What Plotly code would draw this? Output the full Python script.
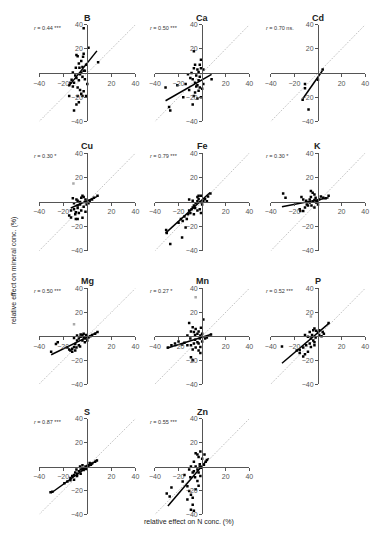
import plotly.graph_objects as go

W, H = 376, 550

# ---------------- data (relative effects, %) ----------------
panels = ["B", "Ca", "Cd", "Cu", "Fe", "K", "Mg", "Mn", "P", "S", "Zn"]
r_labels = ["0.44 ***", "0.50 ***", "0.70 ns.", "0.30 *", "0.79 ***", "0.30 *",
            "0.50 ***", "0.27 *", "0.52 ***", "0.87 ***", "0.55 ***"]

B_x = [-3, 1, -8, -9, -3.5, -3, -5, -7, -1, 9, -9.5, -6.5, -4, -3, -12, -10, -6, -4, -2, -13, -11, -15, -12, -8, -6, -3, -5, -4, -8, -1, -15, -7, -9, -11, -7, -9, -2, -5, 0, -14]
B_y = [37, 21, 14, 15, 13.5, 16, 10, 8, 7, 9, 4.5, 4.5, 5, 2, 0.5, -2, -1, -3, -5, -5.5, -8, -10, -11, -12, -14, -15, -17, -19, -19, -19, -19, -24, -26, -31, -6, -4, 2, 0.5, -9, -8]

Ca_x = [-7, -1, -2, -6, -12, -7, -4, -3, -1, 1, -10, -8, -6, -4, -2, 0, -3, -6, -7, -1, -4, -8, -21, -31, -28, -27, -16, 8, -5, -9, -2, -14, -11, -5, 1, -3]
Ca_y = [18, 11, 7, 7, -1, 4, 3, 1, 4, 3, -4, -5, -8, -10, -12, -13, -14.5, -16, -19, -20, -21, -26, -10, -12, -28, -31, -20, -5, -2, 0, -3, -9, -14, -11, -9, -6]

Cd_x = [4, 0, -11, -11, -13, -8]
Cd_y = [3, -5.5, -9, -12.5, -22, -30]

Cu_x = [-12, -11, -9, -8, -5, -4, -3, -1.5, -6, -8, -11, -13.5, -15, -13.5, -9.5, -8, -4, -1.5, 1, 4, 5.5, 8.5, -7, -3, -0.5, -9.5, -5, -8, -10, -2, 2, -6]
Cu_y = [3, -1, 2, 1, 3.5, 5, 4, 2, -2, -5, -6, -7, -11, -12.7, -14, -14, -13, -8, -1, 2, 3.5, 5, -9, -4, -2, -8.5, -7, -3, -10, 0, 1, 0]
Cu_out_x = [-11.5]
Cu_out_y = [15]

Fe_x = [-30.5, -30, -27, -17, -14, -16.5, -15, -12, -11, -10, -8, -7, -5.5, -4, -3, -1.5, 0, 1, 2.5, 4, 5, -4, -3, -11, -8, -6, -2, -1, -7, -1, 7, -13, -20, -18, -9, -4]
Fe_y = [-23, -25.5, -34.5, -29, -21, -15.5, -12, -10, -7, -9, -4.5, -3, -1, 0.5, 2.5, 0, -2, 1, 2.5, 0.5, 4.5, 4, 5, 2, 1, -5, -6, -9, -10, 5, 7, -14, -17, -14, -6, -7]

K_x = [-29.5, -27.5, -14, -12.5, -10, -6, -4.5, -3, -2, 1, 2.5, 4.5, 6.5, 9, -7, -8.5, -11, -12.5, -15, -15.5, -3, -5.5, -1.5, -4, -7, -9.5, -1, -6, 0, -3]
K_y = [7, 3.5, 4, 2, 1, 9, 7.5, 6, 3.5, 2, 4.5, 3.5, 3, 5, -0.5, -3, -4.5, -7.5, -7.5, -6, -4.5, -3, -0.5, 0.5, 2, -2, 1, 4, -2, 1.5]

Mg_x = [-30, -24.5, -26, -16.5, -15, -14, -12.5, -11, -10, -8.5, -7, -5.5, -4, -3, -1.5, 0, 1, 2.5, 4, 6.5, 8.5, -11, -8.5, -5.5, -4, -7, -9, -12.5, -10, -6, -2, -1, -3]
Mg_y = [-13, -5, -6.5, -9.5, -11, -12, -13, -9, -6.5, -3.5, -2, -0.5, 1, -1, -2, -3.5, -1, 0, 1, 2, 3.5, -1.5, 0.5, 1.5, -3.5, -7.5, -9.5, -10.5, -12, -8.5, -5, 1, 2]
Mg_out_x = [-11]
Mg_out_y = [10]

Mn_x = [1, -11, -8, -7, -5.5, -9.5, -12.5, -4, -3, -1.5, 0, -23, -26, -29, -15, -12.5, -9.5, -8, -5.5, -3, -1.5, 0, 2.5, 4, 7.5, -9.5, -8, -3, -1.5, -6, -10, -2, -4, -7, -17, -20, -1, -6]
Mn_y = [14, 11, 7.5, 3.5, 6, 4, 0.5, 2, 4, 0.5, 2, -6, -7.5, -9.5, -5.5, -7.5, -7.5, -11, -9.5, -6, -9, -4.5, -2, -1, 1.5, -17.5, -20, -12, -14, -3, -2, -2, -5, -6, -7, -4.5, 7, 1]
Mn_out_x = [-5.5]
Mn_out_y = [32.5]

P_x = [-30.5, -11, -7, -4, -3, -1.5, 0, 1, 4, 9, -8.5, -6, -4, -3, -7, -10, -12.5, -15.5, -15.5, -12.5, -11, -8.5, -3, -6, 1, 3, -2, -5, 5, -18]
P_y = [-8.5, 1, 3.5, 5, 6.5, 4.5, 3, 5, 3.5, 11, -0.5, -2, -3.5, -5, -6, -7.5, -9.5, -11.5, -14, -17, -15, -13, -7.5, -9, 1, 0, -1, 1, 2, -12]
P_out_x = [-6]
P_out_y = [16.5]

S_x = [-30.5, -29, -19, -16.5, -14, -12.5, -11, -10, -8.5, -7, -5.5, -4, -2.5, -1.5, 0, 1.5, 3, 4, 6.5, 8, -11, -8.5, -14, -4, -5.5, -3, -1, -6, -9, 2]
S_y = [-21.5, -21, -14, -12.5, -9.5, -8, -7, -5, -6, -4, -2.5, -2, -1.5, 0, 0.5, 1, 1.5, 2.5, 4, 5, -11, -8, -11.5, 1, -6, -3, -2, 0, -2.5, 3]

Zn_x = [-1.5, -4, -5.5, -3, 0, 4, -7, -9.5, -11, -8, -7, -5.5, -4, -3, -15, -16.5, -26, -30, -27.5, -12.5, -11, -9.5, -8, -12.5, -8, -9.5, -7, -4, -3, -5.5, -1.5, 1.5, 3, -2, -6, -10, -1, 2, -2]
Zn_y = [12.5, 10, 11, 8, 6.5, 5.5, 4, 0, -2.5, -5, -4, 0, -2.5, -5, -7, -12.5, -17.5, -22.5, -25, -16.5, -20.5, -23.5, -26, -27.5, -32, -36, -37, -12, -16, -19, -8, 1.5, 4, 2, -9, -9, -1, 10, 0]

# regression lines: slope, intercept, x-extent
reg_slope = [1.25, 0.56, 1.40, 0.43, 0.88, 0.19, 0.49, 0.31, 0.84, 0.72, 1.16]
reg_icpt = [8.4, -5.5, -3.2, 0.9, 1.8, 1.8, -0.8, -0.8, 3.0, -0.5, 0.6]
reg_xmin = [-15, -31, -12.7, -13.7, -31, -30.5, -30, -30, -30.5, -30, -29]
reg_xmax = [8, 8, 3.7, 8, 6.5, 9, 8.5, 8, 9, 8.3, 5.5]

axis_ticks = [-40, -20, 20, 40]
axis_range = [-40, 40]

series = {
    "B": (B_x, B_y, [], []),
    "Ca": (Ca_x, Ca_y, [], []),
    "Cd": (Cd_x, Cd_y, [], []),
    "Cu": (Cu_x, Cu_y, Cu_out_x, Cu_out_y),
    "Fe": (Fe_x, Fe_y, [], []),
    "K": (K_x, K_y, [], []),
    "Mg": (Mg_x, Mg_y, Mg_out_x, Mg_out_y),
    "Mn": (Mn_x, Mn_y, Mn_out_x, Mn_out_y),
    "P": (P_x, P_y, P_out_x, P_out_y),
    "S": (S_x, S_y, [], []),
    "Zn": (Zn_x, Zn_y, [], []),
}

# ---------------- layout geometry (pixels) ----------------
col_px = [(34, 133), (153, 250), (272, 369)]
row_px = [(21, 119), (151, 250), (288, 385), (420, 517)]

FONT = "Liberation Sans, Arial, sans-serif"
fig = go.Figure()
layout = dict(
    width=W, height=H, margin=dict(l=0, r=0, t=0, b=0),
    paper_bgcolor="white", plot_bgcolor="white", showlegend=False,
    font=dict(family=FONT, size=7, color="#333"),
)
annotations = []

for i, name in enumerate(panels):
    r, c = divmod(i, 3)
    x0, x1 = col_px[c]
    y0, y1 = row_px[r]
    xd = [x0 / W, x1 / W]
    yd = [1 - y1 / H, 1 - y0 / H]
    k = "" if i == 0 else str(i + 1)
    xa, ya = "x" + k, "y" + k
    common = dict(range=axis_range, tickvals=axis_ticks, ticks="outside", ticklen=3,
                  tickwidth=1, tickcolor="#555", showline=True, linecolor="#555",
                  linewidth=1, showgrid=False, zeroline=False, fixedrange=True,
                  tickfont=dict(family=FONT, size=7, color="#555"))
    layout["xaxis" + k] = dict(domain=xd, anchor="free", position=(yd[0] + yd[1]) / 2, **common)
    layout["yaxis" + k] = dict(domain=yd, anchor="free", position=(xd[0] + xd[1]) / 2, **common)

    # 1:1 line
    fig.add_trace(go.Scatter(x=axis_range, y=axis_range, mode="lines", xaxis=xa, yaxis=ya,
                             line=dict(color="#999", width=0.8, dash="1px,1.5px"), hoverinfo="skip"))
    px_, py_, ox, oy = series[name]
    if ox:
        fig.add_trace(go.Scatter(x=ox, y=oy, mode="markers", xaxis=xa, yaxis=ya,
                                 marker=dict(symbol="square", size=2.5, color="#aaa")))
    fig.add_trace(go.Scatter(x=px_, y=py_, mode="markers", xaxis=xa, yaxis=ya,
                             marker=dict(symbol="square", size=2.5, color="black")))
    lx = [reg_xmin[i], reg_xmax[i]]
    ly = [reg_slope[i] * v + reg_icpt[i] for v in lx]
    fig.add_trace(go.Scatter(x=lx, y=ly, mode="lines", xaxis=xa, yaxis=ya,
                             line=dict(color="black", width=1.5)))

    # panel title
    annotations.append(dict(text="<b>%s</b>" % name, x=(x0 + x1) / 2 / W, y=1 - (y0 - 7) / H,
                            xref="paper", yref="paper", showarrow=False, xanchor="center",
                            yanchor="middle", font=dict(family=FONT, size=9, color="#222")))
    # r label
    annotations.append(dict(text="<i>r</i> = %s" % r_labels[i], x=(x0 - 7) / W, y=1 - (y0 + 3) / H,
                            xref="paper", yref="paper", showarrow=False, xanchor="left",
                            yanchor="middle", font=dict(family=FONT, size=5.5, color="#333")))

annotations.append(dict(text="relative effect on N conc. (%)", x=188 / W, y=1 - 525 / H,
                        xref="paper", yref="paper", showarrow=False, xanchor="center",
                        yanchor="middle", font=dict(family=FONT, size=7, color="#222")))
annotations.append(dict(text="relative effect on mineral conc. (%)", x=8 / W, y=1 - 270 / H,
                        xref="paper", yref="paper", showarrow=False, textangle=-90,
                        xanchor="center", yanchor="middle",
                        font=dict(family=FONT, size=7, color="#222")))
layout["annotations"] = annotations
fig.update_layout(**layout)
fig.write_html("out.html", config={"displayModeBar": False},
               post_script="document.body.style.margin='0';document.body.style.overflow='hidden';")
